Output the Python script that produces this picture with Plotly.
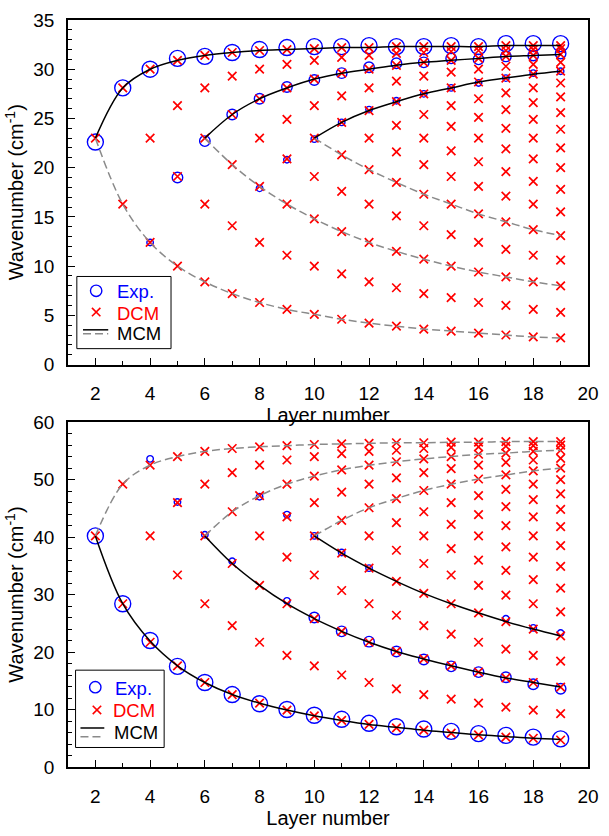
import plotly.graph_objects as go

# ---------------- DATA ----------------
layers = list(range(2, 20))  # layer number N = 2..19

# DCM (red crosses), one list per layer number N (N-1 modes each)
dcm_shear = [
    [23.0],
    [16.3, 28.1],
    [12.4, 23.0, 30.0],
    [10.0, 19.1, 26.3, 30.9],
    [8.4, 16.3, 23.0, 28.1, 31.4],
    [7.2, 14.1, 20.3, 25.4, 29.3, 31.7],
    [6.3, 12.4, 18.1, 23.0, 27.0, 30.0, 31.9],
    [5.6, 11.1, 16.3, 20.9, 24.9, 28.1, 30.5, 32.0],
    [5.1, 10.0, 14.8, 19.1, 23.0, 26.3, 29.0, 30.9, 32.1],
    [4.6, 9.2, 13.5, 17.6, 21.3, 24.6, 27.3, 29.6, 31.2, 32.2],
    [4.2, 8.4, 12.4, 16.3, 19.8, 23.0, 25.8, 28.1, 30.0, 31.4, 32.2],
    [3.9, 7.8, 11.5, 15.1, 18.5, 21.6, 24.3, 26.7, 28.8, 30.4, 31.6, 32.3],
    [3.6, 7.2, 10.7, 14.1, 17.3, 20.3, 23.0, 25.4, 27.5, 29.3, 30.7, 31.7, 32.3],
    [3.4, 6.8, 10.0, 13.2, 16.3, 19.1, 21.7, 24.2, 26.3, 28.1, 29.7, 30.9, 31.8, 32.3],
    [3.2, 6.3, 9.4, 12.4, 15.3, 18.1, 20.6, 23.0, 25.1, 27.0, 28.7, 30.0, 31.1, 31.9, 32.3],
    [3.0, 6.0, 8.9, 11.7, 14.5, 17.1, 19.6, 21.9, 24.0, 25.9, 27.6, 29.1, 30.3, 31.3, 31.9, 32.4],
    [2.8, 5.6, 8.4, 11.1, 13.7, 16.3, 18.6, 20.9, 23.0, 24.9, 26.6, 28.1, 29.5, 30.5, 31.4, 32.0, 32.4],
    [2.7, 5.3, 8.0, 10.6, 13.1, 15.5, 17.8, 20.0, 22.0, 23.9, 25.6, 27.2, 28.6, 29.8, 30.7, 31.5, 32.1, 32.4],
]
dcm_breath = [
    [40.2],
    [28.4, 49.2],
    [21.7, 40.2, 52.5],
    [17.6, 33.4, 46.0, 54.0],
    [14.7, 28.4, 40.2, 49.2, 54.9],
    [12.6, 24.6, 35.4, 44.4, 51.2, 55.4],
    [11.1, 21.7, 31.6, 40.2, 47.2, 52.5, 55.7],
    [9.9, 19.4, 28.4, 36.5, 43.5, 49.2, 53.4, 55.9],
    [8.9, 17.6, 25.8, 33.4, 40.2, 46.0, 50.6, 54.0, 56.1],
    [8.1, 16.0, 23.6, 30.7, 37.2, 42.9, 47.8, 51.7, 54.5, 56.2],
    [7.4, 14.7, 21.7, 28.4, 34.6, 40.2, 45.1, 49.2, 52.5, 54.9, 56.3],
    [6.8, 13.6, 20.1, 26.4, 32.3, 37.7, 42.5, 46.7, 50.3, 53.1, 55.1, 56.4],
    [6.4, 12.6, 18.8, 24.6, 30.2, 35.4, 40.2, 44.4, 48.1, 51.2, 53.6, 55.4, 56.4],
    [5.9, 11.8, 17.6, 23.1, 28.4, 33.4, 38.0, 42.2, 46.0, 49.2, 51.9, 54.0, 55.6, 56.5],
    [5.6, 11.1, 16.5, 21.7, 26.8, 31.6, 36.0, 40.2, 43.9, 47.2, 50.1, 52.5, 54.4, 55.7, 56.5],
    [5.2, 10.4, 15.5, 20.5, 25.3, 29.9, 34.2, 38.3, 42.0, 45.3, 48.3, 50.8, 53.0, 54.6, 55.8, 56.6],
    [5.0, 9.9, 14.7, 19.4, 24.0, 28.4, 32.6, 36.5, 40.2, 43.5, 46.5, 49.2, 51.5, 53.4, 54.9, 55.9, 56.6],
    [4.7, 9.3, 13.9, 18.4, 22.8, 27.0, 31.1, 34.9, 38.5, 41.8, 44.8, 47.5, 50.0, 52.0, 53.7, 55.1, 56.0, 56.6],
]

# MCM curves
shear_solid_x1 = list(range(2, 20))
shear_solid_y1 = [23.0, 28.1, 30.0, 30.9, 31.4, 31.7, 31.9, 32.0, 32.1, 32.2, 32.2, 32.3, 32.3, 32.3, 32.3, 32.4, 32.4, 32.4]
shear_solid_x2 = list(range(6, 20))
shear_solid_y2 = [23.0, 25.4, 27.0, 28.1, 29.0, 29.6, 30.0, 30.4, 30.7, 30.9, 31.1, 31.3, 31.4, 31.5]
shear_solid_x3 = list(range(10, 20))
shear_solid_y3 = [23.0, 24.6, 25.8, 26.7, 27.5, 28.1, 28.7, 29.1, 29.5, 29.8]
shear_dash_x1 = list(range(2, 20))
shear_dash_y1 = [23.0, 16.3, 12.4, 10.0, 8.4, 7.2, 6.3, 5.6, 5.1, 4.6, 4.2, 3.9, 3.6, 3.4, 3.2, 3.0, 2.8, 2.7]
shear_dash_x2 = list(range(6, 20))
shear_dash_y2 = [23.0, 20.3, 18.1, 16.3, 14.8, 13.5, 12.4, 11.5, 10.7, 10.0, 9.4, 8.9, 8.4, 8.0]
shear_dash_x3 = list(range(10, 20))
shear_dash_y3 = [23.0, 21.3, 19.8, 18.5, 17.3, 16.3, 15.3, 14.5, 13.7, 13.1]

breath_solid_x1 = list(range(2, 20))
breath_solid_y1 = [40.2, 28.4, 21.9, 17.6, 14.7, 12.6, 11.1, 9.9, 8.9, 8.1, 7.4, 6.9, 6.4, 6.0, 5.6, 5.3, 5.0, 4.8]
breath_solid_x2 = list(range(6, 20))
breath_solid_y2 = [40.2, 35.4, 31.6, 28.4, 25.8, 23.6, 21.7, 20.1, 18.8, 17.6, 16.5, 15.5, 14.7, 13.9]
breath_solid_x3 = list(range(10, 20))
breath_solid_y3 = [40.2, 37.2, 34.6, 32.3, 30.2, 28.4, 26.8, 25.3, 24.0, 22.8]
breath_dash_x1 = list(range(2, 20))
breath_dash_y1 = [40.2, 49.2, 52.5, 54.0, 54.9, 55.4, 55.7, 55.9, 56.1, 56.2, 56.3, 56.4, 56.4, 56.5, 56.5, 56.6, 56.6, 56.6]
breath_dash_x2 = list(range(6, 20))
breath_dash_y2 = [40.2, 44.4, 47.2, 49.2, 50.6, 51.7, 52.5, 53.1, 53.6, 54.0, 54.4, 54.6, 54.9, 55.1]
breath_dash_x3 = list(range(10, 20))
breath_dash_y3 = [40.2, 42.9, 45.1, 46.7, 48.1, 49.2, 50.1, 50.8, 51.5, 52.0]

# Experimental points (blue circles), grouped by intensity
exp_shear_strong_x = list(range(2, 20))
exp_shear_strong_y = [22.6, 28.1, 30.0, 31.1, 31.3, 31.7, 32.0, 32.2, 32.3, 32.3, 32.4, 32.3, 32.3, 32.4, 32.3, 32.6, 32.6, 32.6]
exp_shear_medium_x = list(range(5, 20))
exp_shear_medium_y = [19.0, 22.7, 25.4, 27.0, 28.2, 28.9, 29.6, 30.2, 30.6, 30.7, 31.1, 31.0, 31.3, 31.4, 31.6]
exp_shear_weak_x = [4, 8, 9, 10, 11, 12, 13, 14, 15, 16, 17, 18, 19]
exp_shear_weak_y = [12.4, 17.9, 20.8, 22.9, 24.6, 25.9, 26.8, 27.5, 28.1, 28.6, 29.1, 29.6, 29.8]

exp_breath_strong_x = list(range(2, 20))
exp_breath_strong_y = [40.2, 28.4, 22.0, 17.5, 14.7, 12.6, 11.0, 10.0, 9.0, 8.3, 7.6, 7.0, 6.6, 6.2, 5.8, 5.5, 5.2, 4.9]
exp_breath_medium_x = list(range(10, 20))
exp_breath_medium_y = [26.0, 23.6, 21.8, 20.1, 18.7, 17.5, 16.5, 15.6, 14.4, 13.6]
exp_breath_weak_x = [4, 5, 6, 7, 8, 9, 9, 10, 11, 12, 17, 18, 19]
exp_breath_weak_y = [53.6, 46.1, 40.4, 35.8, 47.0, 28.9, 43.9, 40.2, 37.3, 34.6, 25.8, 24.2, 23.3]

x_tick_vals = [2, 4, 6, 8, 10, 12, 14, 16, 18, 20]

# ---------------- FIGURE ----------------
W, H = 609, 836
ML, MR, MT, MB = 68, 11, 10, 60
FONT = "Liberation Sans, Arial, sans-serif"
BLUE, RED, GRAY = "#0000ff", "#ff0000", "#8a8a8a"

fig = go.Figure()


def add_panel(xa, ya, dcm, exp_groups, solids, dashes):
    xs, ys = [], []
    for n, vals in zip(layers, dcm):
        xs += [n] * len(vals)
        ys += vals
    for (ex, ey), sz in zip(exp_groups, (16, 10.5, 6.5)):
        fig.add_trace(go.Scatter(x=ex, y=ey, mode="markers", xaxis=xa, yaxis=ya,
                                 marker=dict(symbol="circle-open", size=sz, color=BLUE,
                                             line=dict(width=1.4, color=BLUE)),
                                 showlegend=False, hoverinfo="skip"))
    fig.add_trace(go.Scatter(x=xs, y=ys, mode="markers", xaxis=xa, yaxis=ya,
                             marker=dict(symbol="x-thin-open", size=8.5, color=RED,
                                         line=dict(width=1.7, color=RED)),
                             showlegend=False, hoverinfo="skip"))
    for cx, cy in dashes:
        fig.add_trace(go.Scatter(x=cx, y=cy, mode="lines", xaxis=xa, yaxis=ya,
                                 line=dict(color=GRAY, width=1.5, dash="8px,4px", shape="spline", smoothing=1.0),
                                 showlegend=False, hoverinfo="skip"))
    for cx, cy in solids:
        fig.add_trace(go.Scatter(x=cx, y=cy, mode="lines", xaxis=xa, yaxis=ya,
                                 line=dict(color="black", width=1.5, shape="spline", smoothing=1.0),
                                 showlegend=False, hoverinfo="skip"))


add_panel("x", "y", dcm_shear,
          [(exp_shear_strong_x, exp_shear_strong_y), (exp_shear_medium_x, exp_shear_medium_y),
           (exp_shear_weak_x, exp_shear_weak_y)],
          [(shear_solid_x1, shear_solid_y1), (shear_solid_x2, shear_solid_y2), (shear_solid_x3, shear_solid_y3)],
          [(shear_dash_x1, shear_dash_y1), (shear_dash_x2, shear_dash_y2), (shear_dash_x3, shear_dash_y3)])
add_panel("x2", "y2", dcm_breath,
          [(exp_breath_strong_x, exp_breath_strong_y), (exp_breath_medium_x, exp_breath_medium_y),
           (exp_breath_weak_x, exp_breath_weak_y)],
          [(breath_solid_x1, breath_solid_y1), (breath_solid_x2, breath_solid_y2), (breath_solid_x3, breath_solid_y3)],
          [(breath_dash_x1, breath_dash_y1), (breath_dash_x2, breath_dash_y2), (breath_dash_x3, breath_dash_y3)])

PW, PH = W - ML - MR, H - MT - MB


def px(x):
    return (x - ML) / PW


def py(y):
    return (H - MB - y) / PH


axis_common = dict(showline=True, linecolor="black", linewidth=1.5, mirror=True,
                   ticks="inside", ticklen=7, tickwidth=1.2, tickcolor="black",
                   showgrid=False, zeroline=False,
                   tickfont=dict(size=19, color="black", family=FONT),
                   title_font=dict(size=20, color="black", family=FONT))

xcfg = dict(axis_common, range=[1, 20], tickmode="array", tickvals=x_tick_vals,
            minor=dict(ticks="inside", ticklen=4, tickwidth=1, tickcolor="black", dtick=1, tick0=0, showgrid=False),
            title=dict(text="Layer number", standoff=5), ticklabelstandoff=11)

top_bottom = py(363.3)
bot_top = py(422.3)

fig.update_layout(
    width=W, height=H,
    margin=dict(l=ML, r=MR, t=MT, b=MB),
    paper_bgcolor="white", plot_bgcolor="white",
    font=dict(family=FONT, color="black"),
    showlegend=False,
    xaxis=dict(xcfg, anchor="y", domain=[0, 1]),
    xaxis2=dict(xcfg, anchor="y2", domain=[0, 1]),
    yaxis=dict(axis_common, range=[0, 35], tickmode="linear", tick0=0, dtick=5, domain=[top_bottom, 1],
               minor=dict(ticks="inside", ticklen=4, tickwidth=1, tickcolor="black", dtick=1, showgrid=False),
               title=dict(text="Wavenumber (cm<sup>-1</sup>)", standoff=4), ticklabelstandoff=8,
               anchor="x"),
    yaxis2=dict(axis_common, range=[0, 60], tickmode="linear", tick0=0, dtick=10, domain=[0, bot_top],
                minor=dict(ticks="inside", ticklen=4, tickwidth=1, tickcolor="black", dtick=2, showgrid=False),
                title=dict(text="Wavenumber (cm<sup>-1</sup>)", standoff=4), ticklabelstandoff=8,
                anchor="x2"),
)

# ---------------- custom legends ----------------
shapes, annos = [], []


def legend(box, circ, cross, line_x, solid_y, dash_y, texts):
    x0, y0, x1, y1 = box
    shapes.append(dict(type="rect", xref="paper", yref="paper", x0=px(x0), x1=px(x1), y0=py(y1), y1=py(y0),
                       line=dict(color="black", width=1), fillcolor="white", layer="above"))
    cx, cy, r = circ
    shapes.append(dict(type="circle", xref="paper", yref="paper", x0=px(cx - r), x1=px(cx + r),
                       y0=py(cy + r), y1=py(cy - r), line=dict(color=BLUE, width=1.4)))
    kx, ky, h = cross
    shapes.append(dict(type="line", xref="paper", yref="paper", x0=px(kx - h), x1=px(kx + h),
                       y0=py(ky - h), y1=py(ky + h), line=dict(color=RED, width=1.6)))
    shapes.append(dict(type="line", xref="paper", yref="paper", x0=px(kx - h), x1=px(kx + h),
                       y0=py(ky + h), y1=py(ky - h), line=dict(color=RED, width=1.6)))
    lx0, lx1 = line_x
    shapes.append(dict(type="line", xref="paper", yref="paper", x0=px(lx0), x1=px(lx1),
                       y0=py(solid_y), y1=py(solid_y), line=dict(color="black", width=1.5)))
    shapes.append(dict(type="line", xref="paper", yref="paper", x0=px(lx0), x1=px(lx1),
                       y0=py(dash_y), y1=py(dash_y), line=dict(color=GRAY, width=1.5, dash="8px,4px")))
    for (tx, ty, txt, col) in texts:
        annos.append(dict(xref="paper", yref="paper", x=px(tx), y=py(ty), text=txt, showarrow=False,
                          xanchor="left", yanchor="middle", font=dict(size=18.5, color=col, family=FONT)))


legend((77, 273, 173, 347), (96.7, 287.7, 5.8), (96.7, 309.5, 4.3), (83.3, 109), 327.7, 331.7,
       [(115.5, 288.5, "Exp.", BLUE), (115.5, 311, "DCM", RED), (115.5, 331, "MCM", "black")])
legend((75.7, 676.7, 166, 756), (95.8, 694.2, 5.8), (97.5, 717.5, 4.3), (80.7, 105), 736, 745,
       [(113.5, 695, "Exp.", BLUE), (111.5, 718, "DCM", RED), (112.5, 741, "MCM", "black")])

fig.update_layout(shapes=shapes, annotations=annos)

fig.write_html("out.html")
